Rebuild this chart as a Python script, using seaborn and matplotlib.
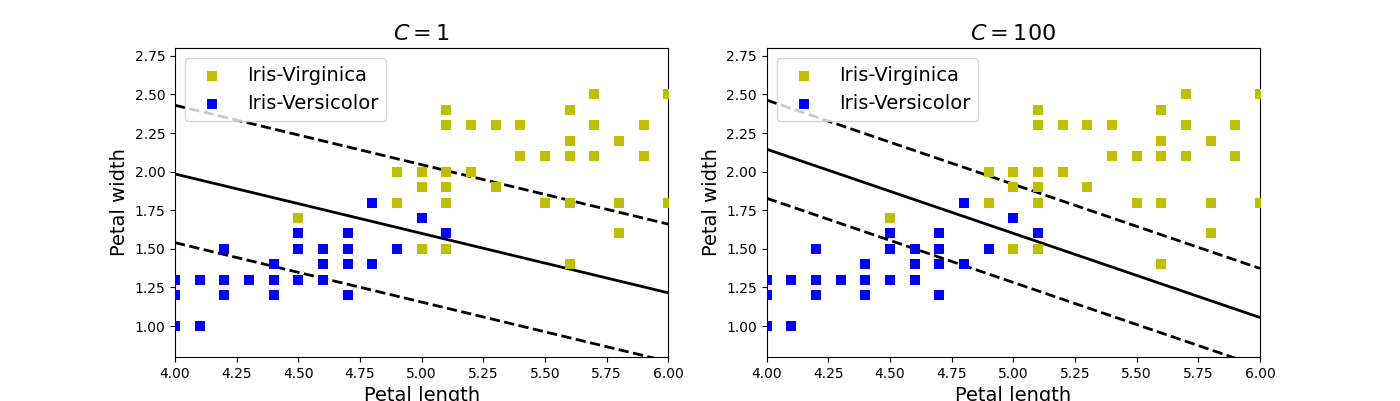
import numpy as np
import pandas as pd
import matplotlib
matplotlib.use("Agg")
import matplotlib.pyplot as plt
import seaborn as sns

# iris petal measurements visible in the window (length, width)
versicolor_length = [4.7, 4.5, 4.9, 4.0, 4.6, 4.5, 4.7, 4.6, 4.2, 4.0, 4.7, 4.4, 4.5, 4.1,
                     4.5, 4.8, 4.0, 4.9, 4.7, 4.3, 4.4, 4.8, 5.0, 4.5, 5.1, 4.5, 4.5, 4.7,
                     4.4, 4.1, 4.0, 4.4, 4.6, 4.0, 4.2, 4.2, 4.2, 4.3, 4.1]
versicolor_width = [1.4, 1.5, 1.5, 1.3, 1.5, 1.3, 1.6, 1.3, 1.5, 1.0, 1.4, 1.4, 1.5, 1.0,
                    1.5, 1.8, 1.3, 1.5, 1.2, 1.3, 1.4, 1.4, 1.7, 1.5, 1.6, 1.5, 1.6, 1.5,
                    1.3, 1.3, 1.3, 1.2, 1.4, 1.2, 1.3, 1.2, 1.3, 1.3, 1.3]
virginica_length = [6.0, 5.1, 5.9, 5.6, 5.8, 4.5, 5.8, 5.1, 5.3, 5.5, 5.0, 5.1, 5.3, 5.5,
                    5.0, 5.7, 4.9, 4.9, 5.7, 6.0, 4.8, 4.9, 5.6, 5.8, 5.6, 5.1, 5.6, 5.6,
                    5.5, 4.8, 5.4, 5.6, 5.1, 5.1, 5.9, 5.7, 5.2, 5.0, 5.2, 5.4, 5.1]
virginica_width = [2.5, 1.9, 2.1, 1.8, 2.2, 1.7, 1.8, 2.0, 1.9, 2.1, 2.0, 2.4, 2.3, 1.8,
                   1.5, 2.3, 2.0, 1.8, 2.1, 1.8, 1.8, 1.8, 2.1, 1.6, 2.2, 1.5, 1.4, 2.4,
                   1.8, 1.8, 2.1, 2.4, 2.3, 1.9, 2.3, 2.5, 2.3, 1.9, 2.0, 2.3, 1.8]

# decision boundaries: (y at x=4, y at x=6, margin)
C_values = [1, 100]
boundary_y_at_4 = [1.985, 2.145]
boundary_y_at_6 = [1.215, 1.055]
margins = [0.445, 0.318]

virg = pd.DataFrame({"length": virginica_length, "width": virginica_width})
vers = pd.DataFrame({"length": versicolor_length, "width": versicolor_width})

fig, axes = plt.subplots(1, 2, figsize=(14, 4.01), dpi=100)
plt.subplots_adjust(left=0.125, right=0.9, top=0.88, bottom=0.11, wspace=0.2)

x0 = np.array([4.0, 6.0])
for i, ax in enumerate(axes):
    y = np.array([boundary_y_at_4[i], boundary_y_at_6[i]])
    ax.plot(x0, y, "k-", linewidth=2)
    ax.plot(x0, y + margins[i], "k--", linewidth=2)
    ax.plot(x0, y - margins[i], "k--", linewidth=2)
    sns.scatterplot(data=virg, x="length", y="width", marker="s", color="y",
                    s=50, linewidth=0, label="Iris-Virginica", ax=ax, zorder=3)
    sns.scatterplot(data=vers, x="length", y="width", marker="s", color="b",
                    s=50, linewidth=0, label="Iris-Versicolor", ax=ax, zorder=3)
    ax.set_xlim(4, 6)
    ax.set_ylim(0.8, 2.8)
    ax.set_xticks(np.arange(4.0, 6.01, 0.25))
    ax.set_yticks(np.arange(1.0, 2.76, 0.25))
    ax.set_xlabel("Petal length", fontsize=14)
    ax.set_ylabel("Petal width", fontsize=14)
    ax.set_title(r"$C = {}$".format(C_values[i]), fontsize=16)
    ax.legend(loc="upper left", fontsize=14)

plt.savefig("out.png", dpi=100)
